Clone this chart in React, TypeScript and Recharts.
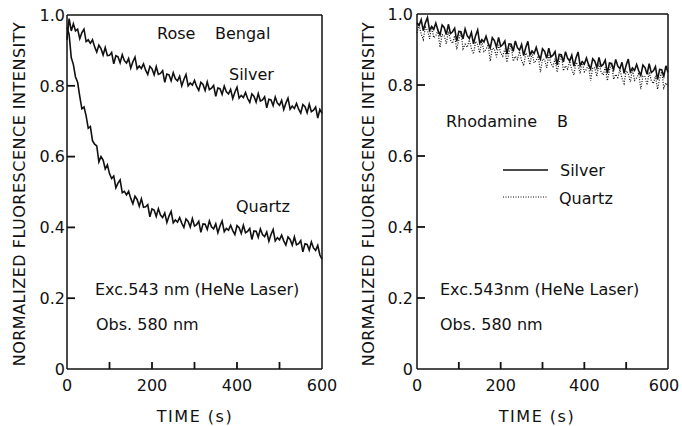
import React from "react";
import { LineChart, Line, XAxis, YAxis, ReferenceLine } from "recharts";

const time = [
  0, 5, 10, 15, 20, 25, 30, 35, 40, 45, 50, 55, 60, 65, 70, 75, 80, 85, 90, 95,
  100, 105, 110, 115, 120, 125, 130, 135, 140, 145, 150, 155, 160, 165, 170, 175, 180, 185, 190, 195,
  200, 205, 210, 215, 220, 225, 230, 235, 240, 245, 250, 255, 260, 265, 270, 275, 280, 285, 290, 295,
  300, 305, 310, 315, 320, 325, 330, 335, 340, 345, 350, 355, 360, 365, 370, 375, 380, 385, 390, 395,
  400, 405, 410, 415, 420, 425, 430, 435, 440, 445, 450, 455, 460, 465, 470, 475, 480, 485, 490, 495,
  500, 505, 510, 515, 520, 525, 530, 535, 540, 545, 550, 555, 560, 565, 570, 575, 580, 585, 590, 595,
  600,
];

const roseSilver = [
  0.93, 0.99, 0.955, 0.975, 0.955, 0.96, 0.933, 0.95, 0.96, 0.925, 0.93, 0.92, 0.93, 0.91, 0.895, 0.915, 0.905, 0.887, 0.908, 0.885,
  0.886, 0.894, 0.862, 0.885, 0.882, 0.865, 0.888, 0.871, 0.864, 0.877, 0.85, 0.868, 0.881, 0.848, 0.856, 0.849, 0.862, 0.844, 0.832, 0.855,
  0.848, 0.831, 0.854, 0.832, 0.835, 0.843, 0.81, 0.833, 0.831, 0.814, 0.837, 0.82, 0.814, 0.827, 0.8, 0.818, 0.832, 0.8, 0.808, 0.802,
  0.815, 0.798, 0.787, 0.81, 0.804, 0.787, 0.811, 0.789, 0.793, 0.801, 0.77, 0.794, 0.792, 0.776, 0.799, 0.783, 0.777, 0.79, 0.764, 0.782,
  0.796, 0.765, 0.773, 0.767, 0.781, 0.764, 0.753, 0.777, 0.77, 0.754, 0.778, 0.757, 0.76, 0.769, 0.738, 0.762, 0.76, 0.744, 0.768, 0.751,
  0.745, 0.759, 0.733, 0.751, 0.765, 0.734, 0.743, 0.736, 0.75, 0.734, 0.723, 0.747, 0.741, 0.724, 0.748, 0.727, 0.731, 0.74, 0.709, 0.733,
  0.722,
];

const roseQuartz = [
  0.965, 0.945, 0.88, 0.86, 0.825, 0.81, 0.77, 0.735, 0.74, 0.715, 0.68, 0.685, 0.645, 0.635, 0.63, 0.585, 0.6, 0.59, 0.565, 0.577,
  0.552, 0.538, 0.545, 0.512, 0.525, 0.534, 0.498, 0.502, 0.492, 0.502, 0.482, 0.467, 0.488, 0.479, 0.46, 0.481, 0.457, 0.458, 0.464, 0.43,
  0.452, 0.449, 0.431, 0.453, 0.435, 0.428, 0.441, 0.414, 0.432, 0.445, 0.413, 0.421, 0.415, 0.428, 0.412, 0.4, 0.424, 0.417, 0.401, 0.425,
  0.404, 0.408, 0.417, 0.386, 0.41, 0.409, 0.394, 0.418, 0.402, 0.396, 0.41, 0.385, 0.404, 0.418, 0.388, 0.397, 0.392, 0.406, 0.391, 0.38,
  0.405, 0.399, 0.383, 0.406, 0.385, 0.389, 0.397, 0.366, 0.39, 0.389, 0.372, 0.396, 0.38, 0.374, 0.387, 0.361, 0.38, 0.394, 0.362, 0.371,
  0.365, 0.378, 0.362, 0.35, 0.373, 0.366, 0.35, 0.373, 0.351, 0.354, 0.363, 0.331, 0.354, 0.352, 0.336, 0.359, 0.342, 0.335, 0.349, 0.322,
  0.31,
];

const rhodSilver = [
  0.975, 0.968, 0.984, 0.953, 0.975, 0.99, 0.954, 0.965, 0.957, 0.974, 0.954, 0.941, 0.969, 0.962, 0.942, 0.971, 0.945, 0.95, 0.96, 0.923,
  0.951, 0.95, 0.93, 0.958, 0.939, 0.931, 0.948, 0.916, 0.939, 0.955, 0.918, 0.928, 0.921, 0.937, 0.918, 0.904, 0.933, 0.925, 0.906, 0.934,
  0.909, 0.914, 0.924, 0.887, 0.916, 0.915, 0.895, 0.924, 0.905, 0.898, 0.914, 0.883, 0.906, 0.923, 0.885, 0.896, 0.889, 0.906, 0.886, 0.873,
  0.902, 0.895, 0.875, 0.904, 0.879, 0.884, 0.894, 0.857, 0.886, 0.885, 0.865, 0.894, 0.875, 0.868, 0.884, 0.853, 0.876, 0.893, 0.855, 0.866,
  0.859, 0.876, 0.858, 0.845, 0.874, 0.867, 0.849, 0.878, 0.853, 0.858, 0.87, 0.833, 0.862, 0.861, 0.843, 0.872, 0.853, 0.846, 0.864, 0.833,
  0.856, 0.873, 0.837, 0.848, 0.841, 0.858, 0.84, 0.827, 0.856, 0.849, 0.83, 0.86, 0.835, 0.84, 0.852, 0.815, 0.844, 0.843, 0.825, 0.854,
  0.835,
];

const rhodQuartz = [
  0.947, 0.968, 0.944, 0.928, 0.963, 0.954, 0.93, 0.965, 0.933, 0.939, 0.953, 0.906, 0.942, 0.94, 0.916, 0.951, 0.927, 0.917, 0.939, 0.9,
  0.928, 0.948, 0.902, 0.915, 0.906, 0.927, 0.903, 0.887, 0.923, 0.914, 0.89, 0.925, 0.894, 0.9, 0.914, 0.867, 0.904, 0.902, 0.878, 0.913,
  0.89, 0.881, 0.902, 0.864, 0.893, 0.914, 0.867, 0.881, 0.872, 0.894, 0.869, 0.854, 0.89, 0.882, 0.857, 0.893, 0.862, 0.869, 0.882, 0.836,
  0.873, 0.872, 0.848, 0.884, 0.861, 0.852, 0.874, 0.836, 0.865, 0.886, 0.84, 0.854, 0.845, 0.867, 0.843, 0.828, 0.864, 0.856, 0.832, 0.868,
  0.837, 0.844, 0.858, 0.812, 0.849, 0.848, 0.824, 0.86, 0.837, 0.828, 0.85, 0.812, 0.841, 0.862, 0.816, 0.83, 0.821, 0.843, 0.819, 0.804,
  0.84, 0.832, 0.808, 0.844, 0.813, 0.82, 0.834, 0.788, 0.825, 0.824, 0.8, 0.836, 0.813, 0.804, 0.826, 0.788, 0.817, 0.838, 0.792, 0.806,
  0.797,
];

const xTicks = [0, 100, 200, 300, 400, 500, 600];
const xLabelTicks = [0, 200, 400, 600];
const yTicks = [0, 0.2, 0.4, 0.6, 0.8, 1.0];
const innerXTicks = [100, 200, 300, 400, 500];
const innerYTicks = [0.2, 0.4, 0.6, 0.8];

const roseRows = time.map((t, i) => ({ t, silver: roseSilver[i], quartz: roseQuartz[i] }));
const rhodRows = time.map((t, i) => ({ t, silver: rhodSilver[i], quartz: rhodQuartz[i] }));

const FONT = "'DejaVu Sans', sans-serif";
const INK = "#111";

const CHART_W = 341;
const CHART_H = 426;
const X_AXIS_H = 57;
const LEFT_PANEL = { offset: 0, yWidth: 67, margin: { top: 15, right: 19, bottom: 0, left: 0 }, gap: 2, lastShift: 0 };
const RIGHT_PANEL = { offset: 341, yWidth: 76, margin: { top: 14, right: 14, bottom: 0, left: 0 }, gap: 4, lastShift: -4 };

function renderXTick(props: any, lastShift: number) {
  const { x, y, payload } = props;
  const v = payload.value;
  if (!xLabelTicks.includes(v)) return <g key={"xt" + v} />;
  return (
    <text
      key={"xt" + v}
      x={Number(x) + (v === 600 ? lastShift : 0)}
      y={Number(y) + 11}
      dy="0.71em"
      textAnchor="middle"
      fontSize={16}
      fontFamily={FONT}
      fill={INK}
    >
      {v}
    </text>
  );
}

function renderYTick(props: any, gap: number) {
  const { x, y, payload } = props;
  const v = payload.value;
  const label = v === 0 ? "0" : v.toFixed(1);
  return (
    <text key={"yt" + v} x={Number(x) - gap} y={y} dy="0.36em" textAnchor="end" fontSize={16} fontFamily={FONT} fill={INK}>
      {label}
    </text>
  );
}

// inward tick marks for one panel (axis decoration), placed from the same plot geometry as the chart
function InnerTicks({ panel }: any) {
  const left = panel.offset + panel.margin.left + panel.yWidth;
  const right = panel.offset + CHART_W - panel.margin.right;
  const top = panel.margin.top;
  const bottom = CHART_H - panel.margin.bottom - X_AXIS_H;
  const sx = (t: number) => left + ((right - left) * t) / 600;
  const sy = (v: number) => bottom - (bottom - top) * v;
  return (
    <g stroke={INK} strokeWidth={1.8} fill="none">
      {innerXTicks.map((t) => (
        <line key={"x" + t} x1={sx(t)} x2={sx(t)} y1={bottom} y2={bottom - 7} />
      ))}
      {innerYTicks.map((v) => (
        <line key={"y" + v} x1={left} x2={left + 8} y1={sy(v)} y2={sy(v)} />
      ))}
    </g>
  );
}

function Panel({ rows, panel, dottedQuartz }: any) {
  return (
    <LineChart width={CHART_W} height={CHART_H} data={rows} margin={panel.margin}>
      <XAxis
        dataKey="t"
        type="number"
        domain={[0, 600]}
        ticks={xTicks}
        height={X_AXIS_H}
        tickSize={0}
        tickMargin={0}
        tickLine={false}
        tick={(p: any) => renderXTick(p, panel.lastShift)}
        stroke={INK}
        strokeWidth={1.5}
        interval={0}
      />
      <YAxis
        type="number"
        domain={[0, 1]}
        ticks={yTicks}
        width={panel.yWidth}
        tickSize={0}
        tickMargin={0}
        tickLine={false}
        tick={(p: any) => renderYTick(p, panel.gap)}
        stroke={INK}
        strokeWidth={1.5}
        interval={0}
      />
      <ReferenceLine y={1} stroke={INK} strokeWidth={1.5} />
      <ReferenceLine x={600} stroke={INK} strokeWidth={1.5} />
      <Line
        dataKey="quartz"
        stroke={INK}
        strokeWidth={dottedQuartz ? 1.2 : 1.6}
        strokeDasharray={dottedQuartz ? "1 1.5" : undefined}
        dot={false}
        isAnimationActive={false}
      />
      <Line dataKey="silver" stroke={INK} strokeWidth={1.6} dot={false} isAnimationActive={false} />
    </LineChart>
  );
}

const txt = { fontFamily: FONT, fontSize: 16, fill: INK } as const;

export default function App() {
  return (
    <div style={{ position: "absolute", left: 0, top: 0, width: 682, height: 426, background: "#fff", fontFamily: FONT }}>
      <div style={{ position: "absolute", left: LEFT_PANEL.offset, top: 0 }}>
        <Panel rows={roseRows} panel={LEFT_PANEL} dottedQuartz={false} />
      </div>
      <div style={{ position: "absolute", left: RIGHT_PANEL.offset, top: 0 }}>
        <Panel rows={rhodRows} panel={RIGHT_PANEL} dottedQuartz={true} />
      </div>
      <svg width={682} height={426} style={{ position: "absolute", left: 0, top: 0, pointerEvents: "none" }}>
        <InnerTicks panel={LEFT_PANEL} />
        <InnerTicks panel={RIGHT_PANEL} />

        <text {...txt} letterSpacing={0.5} x={19} y={194} textAnchor="middle" dominantBaseline="central" transform="rotate(-90 19 194)">
          NORMALIZED FLUORESCENCE INTENSITY
        </text>
        <text {...txt} letterSpacing={0.5} x={368} y={194} textAnchor="middle" dominantBaseline="central" transform="rotate(-90 368 194)">
          NORMALIZED FLUORESCENCE INTENSITY
        </text>
        <text {...txt} letterSpacing={1.5} x={195} y={422} textAnchor="middle">TIME (s)</text>
        <text {...txt} letterSpacing={1.5} x={537} y={422} textAnchor="middle">TIME (s)</text>

        <text {...txt} y={39}>
          <tspan x={157}>Rose</tspan>
          <tspan x={215}>Bengal</tspan>
        </text>
        <text {...txt} x={229} y={80}>Silver</text>
        <text {...txt} x={236} y={212}>Quartz</text>
        <text {...txt} x={95} y={295}>Exc.543 nm (HeNe Laser)</text>
        <text {...txt} x={96} y={330}>Obs. 580 nm</text>

        <text {...txt} y={127}>
          <tspan x={446}>Rhodamine</tspan>
          <tspan x={557}>B</tspan>
        </text>
        <line x1={503} x2={548} y1={170} y2={170} stroke={INK} strokeWidth={1.6} />
        <text {...txt} x={560} y={176}>Silver</text>
        <line x1={503} x2={548} y1={197} y2={197} stroke={INK} strokeWidth={1.2} strokeDasharray="1 1.5" />
        <text {...txt} x={559} y={204}>Quartz</text>
        <text {...txt} x={440} y={295}>Exc.543nm (HeNe Laser)</text>
        <text {...txt} x={440} y={330}>Obs. 580 nm</text>
      </svg>
    </div>
  );
}
